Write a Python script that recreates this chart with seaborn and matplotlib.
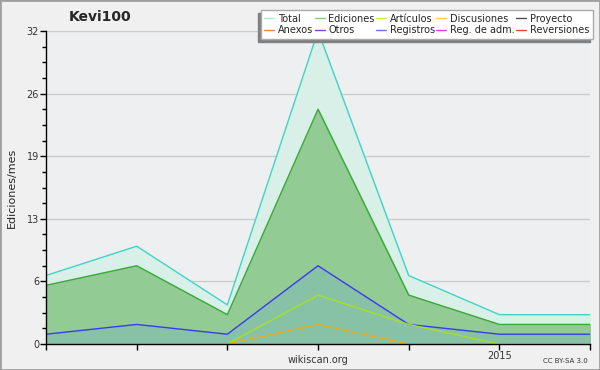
import numpy as np
import pandas as pd
import matplotlib
matplotlib.use("Agg")
import matplotlib.pyplot as plt
from matplotlib.lines import Line2D
import seaborn as sns

# datos mensuales (ago 2014 - feb 2015)
meses = [0, 1, 2, 3, 4, 5, 6]
total = [7, 10, 4, 32, 7, 3, 3]
ediciones = [6, 8, 3, 24, 5, 2, 2]
registros = [1, 2, 1, 8, 2, 1, 1]
articulos = [np.nan, np.nan, 0, 5, 2, 0, 0]
discusiones = [np.nan, np.nan, 0, 2, 0, np.nan, np.nan]

ytick_vals = [0, 6.4, 12.8, 19.2, 25.6, 32]
ytick_labels = ["0", "6", "13", "19", "26", "32"]

leyenda = ["Total", "Ediciones", "Artículos", "Discusiones", "Proyecto",
           "Anexos", "Otros", "Registros", "Reg. de adm.", "Reversiones"]
colores_leyenda = ["#a8e8e0", "#80cc80", "#c8f040", "#ffd040", "#505050",
                   "#ff7f40", "#8040e0", "#7070ff", "#e040f0", "#ff4040"]

df = pd.DataFrame({"mes": meses, "Total": total, "Ediciones": ediciones,
                   "Registros": registros, "Artículos": articulos,
                   "Discusiones": discusiones})

sns.set_style("white")
plt.rcParams["font.family"] = ["DejaVu Sans"]

fig = plt.figure(figsize=(6, 3.7), dpi=100, facecolor="#f0f0f0")
ax = fig.add_axes([46 / 600, 26 / 370, 544 / 600, 313 / 370])
ax.set_facecolor("#eeeff1")

# rellenos
ax.fill_between(df["mes"], df["Total"], color="#d8f0e8", zorder=1)
ax.fill_between(df["mes"], df["Ediciones"], color="#92cc94", zorder=2)
ax.fill_between(df["mes"], df["Registros"], color="#88c2a6", zorder=3)

# líneas
sns.lineplot(data=df, x="mes", y="Total", color="#40d4c8", lw=1, ax=ax, zorder=5)
sns.lineplot(data=df, x="mes", y="Ediciones", color="#3aaa3a", lw=1, ax=ax, zorder=5)
sns.lineplot(data=df, x="mes", y="Registros", color="#3a3af0", lw=1, ax=ax, zorder=5)
sns.lineplot(data=df, x="mes", y="Artículos", color="#a8e020", lw=1, ax=ax, zorder=5)
sns.lineplot(data=df, x="mes", y="Discusiones", color="#e0b020", lw=1, ax=ax, zorder=5)

ax.set_xlim(0, 6)
ax.set_ylim(0, 32)
ax.set_xticks(meses)
ax.set_xticklabels(["", "", "", "", "", "2015", ""], fontsize=7, color="#333333")
ax.set_yticks(ytick_vals)
ax.set_yticklabels(ytick_labels, fontsize=7, color="#333333")
ax.set_yticks(np.arange(0, 32.01, 1.6), minor=True)
ax.tick_params(axis="both", which="major", direction="out", length=4, width=1,
               color="black", pad=1, left=True, bottom=True)
ax.tick_params(axis="y", which="minor", direction="out", length=3, width=1,
               color="black", left=True)
ax.grid(axis="y", which="major", color="#cccccc", lw=1, zorder=0)
ax.set_axisbelow(True)
for s in ["top", "right"]:
    ax.spines[s].set_visible(False)
for s in ["left", "bottom"]:
    ax.spines[s].set_color("black")
    ax.spines[s].set_linewidth(1)
    ax.spines[s].set_zorder(10)
ax.set_xlabel("")
ax.set_ylabel("Ediciones/mes", fontsize=8, labelpad=7)

fig.text(100 / 600, 1 - 17 / 370, "Kevi100", fontsize=10, fontweight="bold",
         ha="center", va="center")
fig.text(318 / 600, 1 - 360 / 370, "wikiscan.org", fontsize=7, color="#333333",
         ha="center", va="center")
fig.text(588 / 600, 1 - 361 / 370, "CC BY-SA 3.0", fontsize=5, color="#333333",
         ha="right", va="center")

# leyenda por filas: reordenar para que matplotlib la llene por columnas
orden = [0, 5, 1, 6, 2, 7, 3, 8, 4, 9]
handles = [Line2D([0], [0], color=colores_leyenda[i], lw=1) for i in orden]
etiquetas = [leyenda[i] for i in orden]
leg = fig.legend(handles, etiquetas, ncol=5, loc="upper right",
                 bbox_to_anchor=(593 / 600, 1 - 10 / 370), fontsize=7,
                 frameon=True, fancybox=False, shadow=False,
                 handlelength=1.0, handletextpad=0.4, columnspacing=0.15,
                 labelspacing=0.12, borderpad=0.4, borderaxespad=0)
leg.get_frame().set_edgecolor("#aaaaaa")
leg.get_frame().set_linewidth(1)
leg.get_frame().set_facecolor("white")
leg.get_frame().set_alpha(1)

# sombra de la leyenda (abajo a la izquierda)
fig.canvas.draw()
bb = leg.get_window_extent().transformed(fig.transFigure.inverted())
fig.patches.append(plt.Rectangle((bb.x0 - 3 / 600, bb.y0 - 3 / 370), bb.width, bb.height,
                                 transform=fig.transFigure, color="#808080",
                                 zorder=leg.get_zorder() - 0.5))

# borde de la figura
fig.patches.append(plt.Rectangle((0, 0), 1, 1, transform=fig.transFigure,
                                 fill=False, edgecolor="#a0a0a0", lw=2))

fig.savefig("out.png", dpi=100, facecolor=fig.get_facecolor())
